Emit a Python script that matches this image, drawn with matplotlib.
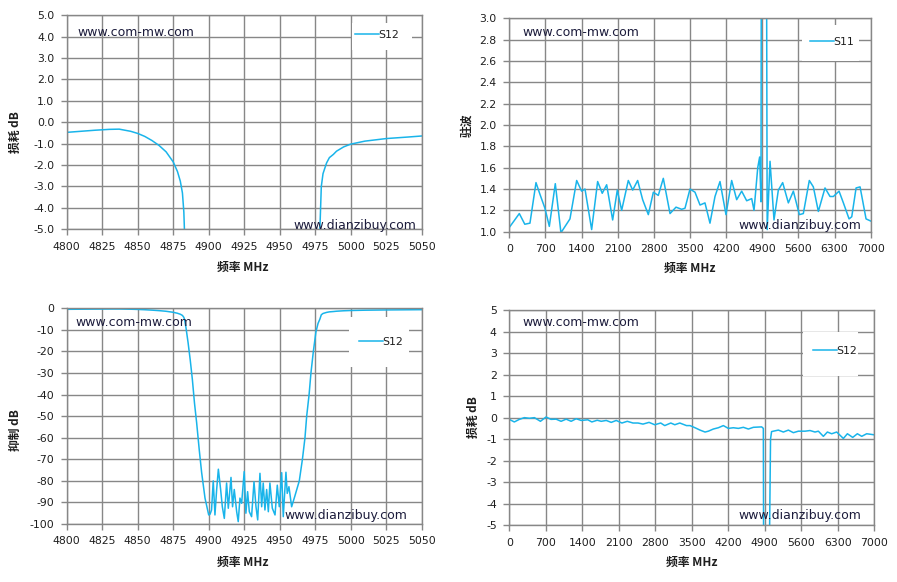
import numpy as np
import matplotlib.pyplot as plt
from matplotlib.patches import Rectangle
from matplotlib.ticker import FormatStrFormatter

# narrow band S12 (same trace used in top-left and bottom-left panels)
nb_freq = [4800, 4810, 4820, 4830, 4837, 4845, 4850, 4855, 4860, 4865, 4870,
           4875, 4878, 4880, 4881.5, 4882.5, 4883, 4884, 4885.5, 4887, 4888.5,
           4890, 4891.5, 4893.4, 4895, 4897.4, 4900, 4901, 4902, 4903.2,
           4904.4, 4905.6, 4906.8, 4908.4, 4909.6, 4911, 4912.6, 4913.8,
           4915.7, 4916.8, 4918, 4919.7, 4920.8, 4922, 4923.2, 4925, 4926.2,
           4927.4, 4928.6, 4930.2, 4931.9, 4933.3, 4934.5, 4936.1, 4937.3,
           4938.4, 4939.6, 4940.8, 4942, 4943.1, 4944.8, 4946.7, 4948.3,
           4949.7, 4951.4, 4952.5, 4954.4, 4955.3, 4956.5, 4958.4, 4960.7,
           4963.8, 4966, 4967.8, 4969, 4970.7, 4972, 4973.7, 4975.5, 4977,
           4978.3, 4979.3, 4980.5, 4983, 4985, 4987.8, 4990, 4995, 5000,
           5010, 5025, 5040, 5050]
nb_s12 = [-0.47, -0.42, -0.37, -0.33, -0.32, -0.42, -0.52, -0.66, -0.85, -1.08,
          -1.38, -1.85, -2.3, -2.75, -3.3, -4.2, -5.2, -9, -16, -24, -33,
          -44, -53, -66, -76, -88, -95.8, -95.4, -93.5, -80, -95.8, -84,
          -74.6, -84, -92, -97.4, -81, -92.7, -78.4, -92, -84, -94.3, -98.9,
          -88, -90.4, -75.7, -95, -85, -94.3, -96.6, -80.4, -92, -98.1, -76.5,
          -92, -81, -93.5, -84, -94.3, -81, -92.7, -95.8, -82, -92, -76.2,
          -96.6, -76, -85.8, -82.7, -92, -87, -80, -70, -60, -50, -40, -30,
          -20, -11, -7, -5.0, -3.0, -2.4, -1.9, -1.65, -1.5, -1.35, -1.15,
          -1.02, -0.88, -0.76, -0.69, -0.64]

# wide band VSWR (S11)
wb_freq_vswr = [0, 90, 194, 300, 400, 517, 594, 690, 775, 891, 1000, 1175,
                1305, 1400, 1466, 1595, 1711, 1800, 1886, 2002, 2092, 2176,
                2305, 2390, 2486, 2583, 2693, 2790, 2886, 2983, 3113, 3229,
                3338, 3403, 3500, 3597, 3694, 3790, 3887, 3984, 4081, 4197,
                4307, 4404, 4501, 4598, 4695, 4740, 4812, 4849, 4875, 4888,
                4970, 4995, 5050, 5127, 5211, 5295, 5405, 5502, 5618, 5695,
                5811, 5889, 5986, 6115, 6212, 6277, 6387, 6471, 6581, 6633,
                6717, 6794, 6910, 7000]
wb_vswr = [1.04, 1.10, 1.17, 1.07, 1.08, 1.46, 1.35, 1.22, 1.05, 1.45, 0.99,
           1.12, 1.48, 1.38, 1.40, 1.02, 1.47, 1.36, 1.44, 1.11, 1.39, 1.20,
           1.48, 1.39, 1.48, 1.30, 1.16, 1.37, 1.34, 1.50, 1.17, 1.23, 1.21,
           1.22, 1.40, 1.37, 1.25, 1.27, 1.08, 1.33, 1.47, 1.16, 1.48, 1.30,
           1.38, 1.29, 1.31, 1.20, 1.60, 1.70, 1.28, 6.0, 6.0, 1.02, 1.66,
           1.11, 1.39, 1.46, 1.27, 1.38, 1.16, 1.17, 1.48, 1.42, 1.19, 1.41,
           1.33, 1.33, 1.38, 1.27, 1.12, 1.14, 1.41, 1.42, 1.12, 1.10]

# wide band S12
wb_freq_s12 = [0, 96, 193, 289, 385, 482, 597, 705, 800, 897, 993, 1090, 1186,
               1282, 1378, 1506, 1583, 1686, 1763, 1859, 1955, 2051, 2160,
               2263, 2372, 2468, 2564, 2680, 2789, 2904, 2981, 3097, 3174,
               3270, 3398, 3466, 3562, 3658, 3754, 3818, 3913, 4009, 4105,
               4201, 4297, 4393, 4489, 4585, 4681, 4840, 4872, 4890, 4970,
               4980, 5010, 5030, 5064, 5160, 5256, 5352, 5448, 5544, 5672,
               5767, 5863, 5927, 6023, 6100, 6183, 6279, 6407, 6484, 6586,
               6675, 6759, 6854, 7000]
wb_s12 = [-0.08, -0.2, -0.08, 0.0, -0.03, 0.0, -0.17, 0.03, -0.08, -0.07,
          -0.17, -0.07, -0.17, -0.05, -0.13, -0.1, -0.2, -0.12, -0.17, -0.13,
          -0.22, -0.13, -0.25, -0.17, -0.25, -0.25, -0.3, -0.22, -0.33, -0.25,
          -0.37, -0.25, -0.33, -0.25, -0.37, -0.37, -0.47, -0.58, -0.67,
          -0.63, -0.53, -0.47, -0.37, -0.5, -0.47, -0.5, -0.45, -0.53, -0.45,
          -0.43, -0.5, -20, -20, -8, -1.0, -0.65, -0.63, -0.58, -0.67, -0.58,
          -0.7, -0.63, -0.63, -0.6, -0.67, -0.63, -0.87, -0.67, -0.75, -0.67,
          -0.97, -0.75, -0.92, -0.75, -0.87, -0.75, -0.8]

nb_ticks = list(range(4800, 5051, 25))
wb_ticks = list(range(0, 7001, 700))

W, H = 897, 582
GRID = '#878787'
BLUE = '#19b4ea'
CJK = ['Noto Sans CJK SC', 'DejaVu Sans']

plt.rcParams['font.family'] = ['DejaVu Sans']
fig = plt.figure(figsize=(W / 100, H / 100), dpi=100)


def px_axes(l, t, r, b):
    return fig.add_axes([l / W, 1 - b / H, (r - l) / W, (b - t) / H])


def style(ax, xt, yt, fmt):
    ax.set_xticks(xt)
    ax.set_yticks(yt)
    ax.yaxis.set_major_formatter(FormatStrFormatter(fmt))
    ax.set_xlim(xt[0], xt[-1])
    ax.set_ylim(yt[0], yt[-1])
    ax.grid(True, color=GRID, lw=1.0)
    ax.set_axisbelow(True)
    for s in ax.spines.values():
        s.set_color(GRID)
        s.set_linewidth(1.0)
    ax.tick_params(direction='out', length=4, width=1.0, color=GRID,
                   labelsize=7.8, labelcolor='#1e1e1e', pad=5)


def legend(ax, label, box, center):
    l, t, r, b = box
    ax.add_patch(Rectangle((l / W, 1 - b / H), (r - l) / W, (b - t) / H,
                           transform=fig.transFigure, facecolor='white',
                           edgecolor='none', zorder=3, clip_on=False))
    ax.legend([ax.lines[0]], [label], loc='center', frameon=False,
              bbox_to_anchor=(center[0] / W, 1 - center[1] / H),
              bbox_transform=fig.transFigure, fontsize=7.8,
              handlelength=2.2, handletextpad=0.0, borderpad=0.1,
              labelcolor='#1e1e1e')


def marks(x1, y1, x2, y2):
    fig.text(x1 / W, 1 - y1 / H, 'www.com-mw.com', fontsize=9,
             color='#1c1c3c', va='center', ha='left')
    fig.text(x2 / W, 1 - y2 / H, 'www.dianzibuy.com', fontsize=9,
             color='#1c1c3c', va='center', ha='left')


def labels(xl, yl, xpos, ypos):
    fig.text(xpos[0] / W, 1 - xpos[1] / H, xl, family=CJK, weight='bold',
             fontsize=8.5, ha='center', va='center', color='#1e1e1e')
    fig.text(ypos[0] / W, 1 - ypos[1] / H, yl, family=CJK, weight='bold',
             fontsize=8.5, ha='center', va='center', rotation=90,
             color='#1e1e1e')


# top left: insertion loss, narrow band
ax1 = px_axes(66.7, 15.3, 421.7, 229.3)
ax1.plot(nb_freq, nb_s12, color=BLUE, lw=1.1)
style(ax1, nb_ticks, np.arange(-5, 5.01, 1.0), '%.1f')
legend(ax1, 'S12', (352, 23, 412, 50), (377, 35))
marks(77, 33, 293, 225)
labels('频率 MHz', '损耗 dB', (243, 267), (15, 132))

# top right: VSWR, wide band
ax2 = px_axes(509.3, 18.3, 870.7, 231.7)
ax2.plot(wb_freq_vswr, wb_vswr, color=BLUE, lw=1.1)
style(ax2, wb_ticks, np.arange(1.0, 3.01, 0.2), '%.1f')
legend(ax2, 'S11', (802, 25, 859, 61), (832, 42))
marks(522, 33, 738, 225)
labels('频率 MHz', '驻波', (690, 268), (467, 125))

# bottom left: rejection, narrow band
ax3 = px_axes(66.7, 308.3, 421.7, 524)
ax3.plot(nb_freq, nb_s12, color=BLUE, lw=1.1)
style(ax3, nb_ticks, np.arange(-100, 0.1, 10), '%d')
legend(ax3, 'S12', (349, 317, 409, 367), (381, 342))
marks(75, 322, 284, 515)
labels('频率 MHz', '抑制 dB', (243, 562), (15, 430))

# bottom right: insertion loss, wide band
ax4 = px_axes(509.3, 310.3, 874.3, 525)
ax4.plot(wb_freq_s12, wb_s12, color=BLUE, lw=1.1)
style(ax4, wb_ticks, np.arange(-5, 5.1, 1), '%d')
legend(ax4, 'S12', (803, 332, 858, 376), (835, 351))
marks(522, 323, 738, 515)
labels('频率 MHz', '损耗 dB', (692, 562), (473, 417))

fig.savefig('out.png', dpi=100)
